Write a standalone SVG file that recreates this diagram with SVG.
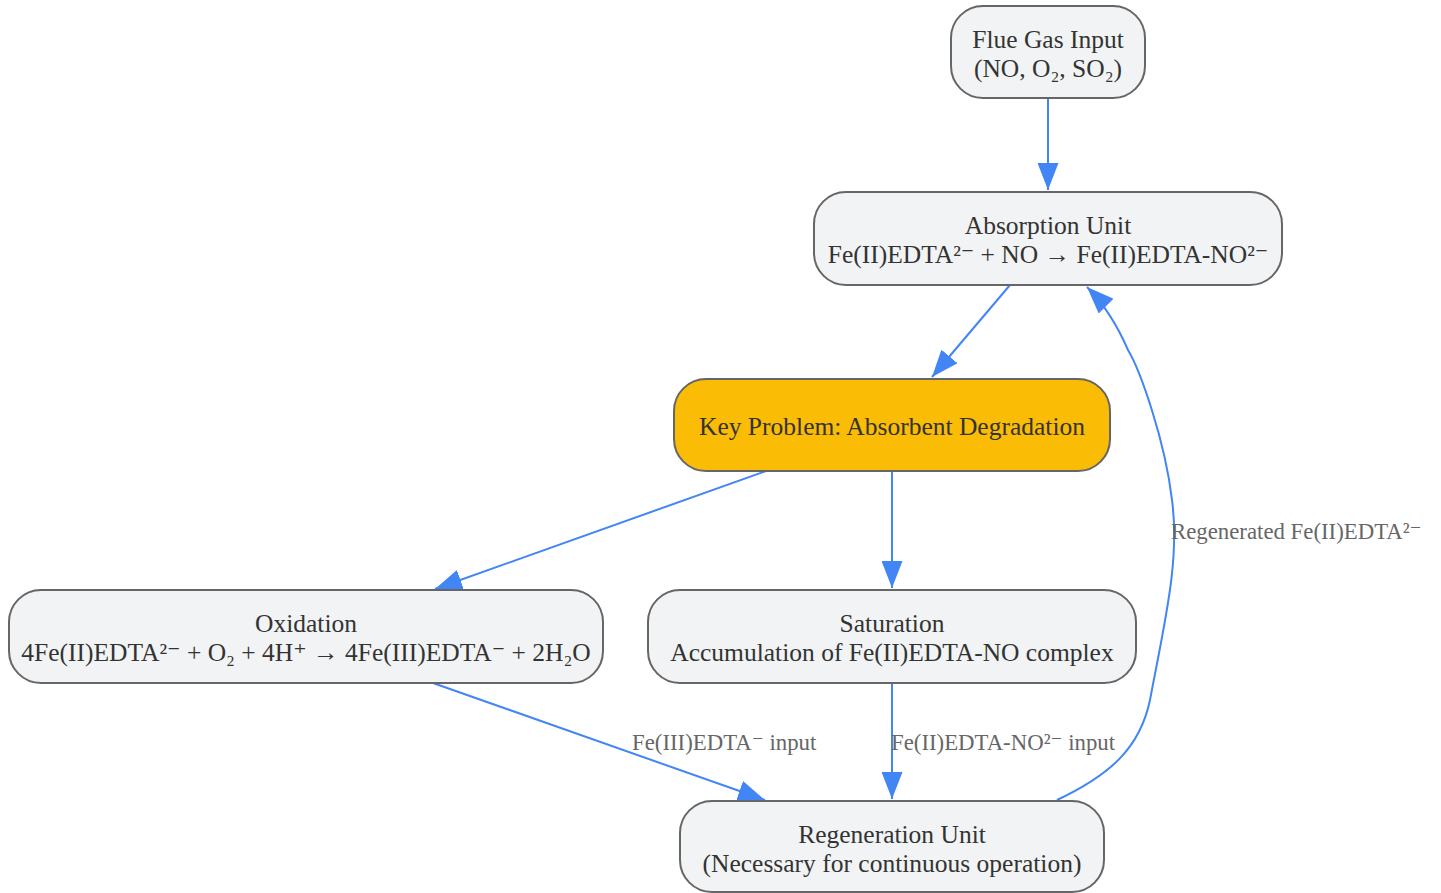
<svg xmlns="http://www.w3.org/2000/svg" width="1441" height="893" viewBox="0 0 1441 893">
<style>
.node rect{fill:#F1F3F4;stroke:#666;stroke-width:2}
.node.key rect{fill:#FBBC05}
.node text{font-family:"Liberation Serif","DejaVu Serif",serif;font-size:25.5px;fill:#333;text-anchor:middle}
.edge{fill:none;stroke:#4285F4;stroke-width:2}
.lbl{font-family:"Liberation Serif","DejaVu Serif",serif;font-size:22.8px;fill:#666}
</style>
<defs>
<marker id="a" viewBox="0 0 27 21" refX="27" refY="10.5" markerWidth="27" markerHeight="21" markerUnits="userSpaceOnUse" orient="auto">
<path d="M0,0 L27,10.5 L0,21 z" fill="#4285F4"/>
</marker>
</defs>
<rect width="1441" height="893" fill="#fff"/>
<g id="connectors">
<path class="edge" d="M1048,98 L1048,190" marker-end="url(#a)"/>
<path class="edge" d="M1010,285 L932,377" marker-end="url(#a)"/>
<path class="edge" d="M766,471 L435,589" marker-end="url(#a)"/>
<path class="edge" d="M892,471 L892,588" marker-end="url(#a)"/>
<path class="edge" d="M433,683 L765,800" marker-end="url(#a)"/>
<path class="edge" d="M892,683 L892,799" marker-end="url(#a)"/>
<path class="edge" d="M1057,800 C1110,775 1140,748 1150,700 C1165,620 1180,560 1172,500 C1165,440 1140,370 1128,350 C1115,320 1100,300 1087,287" marker-end="url(#a)"/>
<text class="lbl" x="632" y="750">Fe(III)EDTA⁻ input</text>
<text class="lbl" x="891" y="750">Fe(II)EDTA-NO²⁻ input</text>
<text class="lbl" x="1171" y="539">Regenerated Fe(II)EDTA²⁻</text>
</g>
<g id="flue" class="node">
<rect x="951" y="6" width="194" height="92" rx="32"/>
<text x="1048" y="48">Flue Gas Input</text>
<text x="1048" y="77">(NO, O₂, SO₂)</text>
</g>
<g id="absorption" class="node">
<rect x="814" y="192" width="468" height="93" rx="32"/>
<text x="1048" y="234">Absorption Unit</text>
<text x="1048" y="263">Fe(II)EDTA²⁻ + NO → Fe(II)EDTA-NO²⁻</text>
</g>
<g id="key" class="node key">
<rect x="674" y="379" width="436" height="92" rx="32"/>
<text x="892" y="435">Key Problem: Absorbent Degradation</text>
</g>
<g id="oxidation" class="node">
<rect x="9" y="590" width="594" height="93" rx="32"/>
<text x="306" y="632">Oxidation</text>
<text x="306" y="661">4Fe(II)EDTA²⁻ + O₂ + 4H⁺ → 4Fe(III)EDTA⁻ + 2H₂O</text>
</g>
<g id="saturation" class="node">
<rect x="648" y="590" width="488" height="93" rx="32"/>
<text x="892" y="632">Saturation</text>
<text x="892" y="661">Accumulation of Fe(II)EDTA-NO complex</text>
</g>
<g id="regeneration" class="node">
<rect x="680" y="801" width="424" height="91" rx="32"/>
<text x="892" y="843">Regeneration Unit</text>
<text x="892" y="872">(Necessary for continuous operation)</text>
</g>
</svg>
